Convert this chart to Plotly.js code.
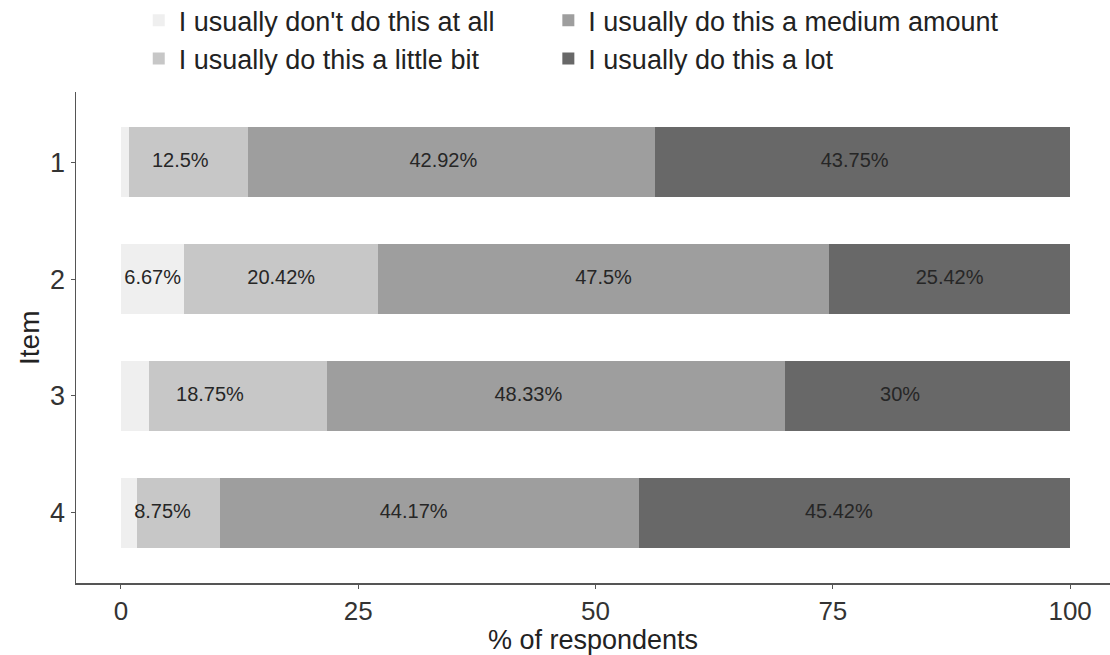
<!DOCTYPE html>
<html>
<head>
<meta charset="utf-8">
<script src="https://cdn.plot.ly/plotly-3.0.1.min.js"></script>
<style>html,body{margin:0;padding:0;background:#fff;}#chart{width:1110px;height:655px;}</style>
</head>
<body>
<div id="chart"></div>
<script>
// Data
const items = [1, 2, 3, 4];
const categories = [
  "I usually don't do this at all",
  "I usually do this a little bit",
  "I usually do this a medium amount",
  "I usually do this a lot"
];
const notAtAll   = [0.83, 6.67, 2.92, 1.66];
const littleBit  = [12.5, 20.42, 18.75, 8.75];
const mediumAmt  = [42.92, 47.5, 48.33, 44.17];
const aLot       = [43.75, 25.42, 30, 45.42];
const yTitle = 'Item';
const xTitle = '% of respondents';

const series = [notAtAll, littleBit, mediumAmt, aLot];
const colors = ['#efefef', '#c7c7c7', '#9e9e9e', '#686868'];
const legendGroups = ['legend', 'legend', 'legend2', 'legend2']; // two legend columns
const minLabel = 5;

const traces = [];
series.forEach((vals, i) => {
  traces.push({
    type: 'bar',
    orientation: 'h',
    name: categories[i],
    y: items,
    x: vals,
    width: 0.6,
    marker: {color: colors[i], line: {width: 0}},
    legend: legendGroups[i],
    hoverinfo: 'x+name'
  });
});

// label positions: running total of labelled segments only (as in the source figure)
const lx = [], ly = [], lt = [];
items.forEach((it, j) => {
  let run = 0;
  series.forEach(vals => {
    const v = vals[j];
    if (v >= minLabel) {
      lx.push(run + v / 2);
      ly.push(it);
      lt.push(v + '%');
      run += v;
    }
  });
});
traces.push({
  type: 'scatter',
  mode: 'text',
  x: lx, y: ly, text: lt,
  textposition: 'middle center',
  textfont: {family: 'Liberation Sans, Arial, sans-serif', size: 20, color: '#262626'},
  showlegend: false,
  hoverinfo: 'skip'
});

const legendBase = {
  orientation: 'v',
  xref: 'container', yref: 'paper',
  y: 1.195, xanchor: 'left', yanchor: 'top',
  font: {size: 27, color: '#222'},
  traceorder: 'normal',
  itemclick: false,
  bgcolor: 'rgba(0,0,0,0)'
};

const layout = {
  width: 1110, height: 655,
  margin: {l: 76, r: 0, t: 92, b: 72, autoexpand: false},
  paper_bgcolor: '#ffffff',
  plot_bgcolor: '#ffffff',
  barmode: 'stack',
  font: {family: 'Liberation Sans, Arial, sans-serif', color: '#222'},
  xaxis: {
    range: [-4.74, 104.2],
    tickvals: [0, 25, 50, 75, 100],
    ticks: 'outside', ticklen: 4, tickcolor: '#555', tickwidth: 1,
    showgrid: false, zeroline: false,
    showline: true, linecolor: '#555', linewidth: 1.5,
    tickfont: {size: 26, color: '#333'},
    title: {text: xTitle, font: {size: 27, color: '#222'}, standoff: 0}
  },
  yaxis: {
    range: [4.6, 0.4],
    tickvals: items,
    ticktext: items.map(String),
    ticks: 'outside', ticklen: 4, tickcolor: '#555', tickwidth: 1,
    showgrid: false, zeroline: false,
    showline: true, linecolor: '#555', linewidth: 1.5,
    tickfont: {size: 27, color: '#333'}
  },
  annotations: [{
    text: yTitle,
    xref: 'paper', yref: 'paper',
    x: -0.045, y: 0.5, xanchor: 'center', yanchor: 'middle',
    textangle: -90, showarrow: false,
    font: {size: 28, color: '#222'}
  }],
  legend: Object.assign({}, legendBase, {x: 0.125}),
  legend2: Object.assign({}, legendBase, {x: 0.494}),
  showlegend: true
};

Plotly.newPlot('chart', traces, layout, {displayModeBar: false, staticPlot: true});
</script>
</body>
</html>
